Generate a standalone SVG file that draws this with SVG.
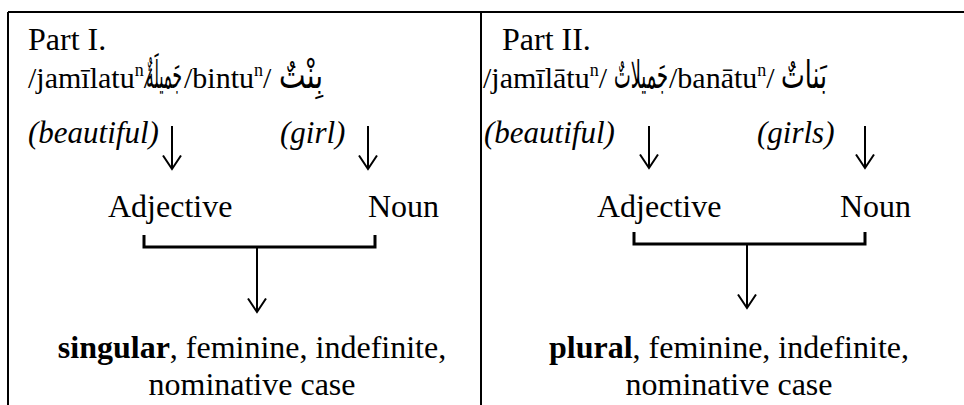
<svg xmlns="http://www.w3.org/2000/svg" width="964" height="405" viewBox="0 0 964 405" font-family="'Liberation Serif', 'Times New Roman', serif">
<style>
text{font-family:"Liberation Serif","Times New Roman",serif;fill:#000}
.t{font-size:32px}
.l2{font-size:30px}
.ar{font-family:"DejaVu Sans",sans-serif;font-size:38px}
.it{font-size:31px;font-style:italic}
.b{font-weight:bold}
.ln{stroke:#000;stroke-width:2;fill:none}
.br{stroke:#000;stroke-width:3;fill:none}
</style>
<defs>
<marker id="ah" viewBox="0 0 16 20" refX="14.5" refY="10" markerWidth="16" markerHeight="20" markerUnits="userSpaceOnUse" orient="auto">
<path d="M1,1 L14.5,10 L1,19" stroke="#000" stroke-width="2" fill="none"/>
</marker>
</defs>
<g id="frame">
<line class="ln" x1="8" y1="12" x2="964" y2="12"/>
<line class="ln" x1="8" y1="12" x2="8" y2="405"/>
<line class="ln" x1="481" y1="12" x2="481" y2="405"/>
</g>
<g id="part1">
<text class="t" x="28" y="50">Part I.</text>
<text class="l2" x="28" y="88">/jamīlatu<tspan font-size="18" dy="-12">n</tspan><tspan dy="12">/</tspan></text>
<text class="ar" x="164" y="88" text-anchor="middle" textLength="36" lengthAdjust="spacingAndGlyphs">جَميلَةٌ</text>
<text class="l2" x="184" y="88">/bintu<tspan font-size="18" dy="-12">n</tspan><tspan dy="12">/</tspan></text>
<text class="ar" x="301" y="88" text-anchor="middle" textLength="44" lengthAdjust="spacingAndGlyphs">بِنْتٌ</text>
<text class="it" x="28" y="143">(beautiful)</text>
<text class="it" x="280" y="143">(girl)</text>
</g>
<g id="adj1"><text class="t" x="108" y="217">Adjective</text></g>
<g id="noun1"><text class="t" x="368" y="217">Noun</text></g>
<g id="res1">
<text class="t" x="252" y="358" text-anchor="middle"><tspan class="b">singular</tspan>, feminine, indefinite,</text>
<text class="t" x="252" y="395" text-anchor="middle">nominative case</text>
</g>
<g id="part2">
<text class="t" x="502" y="50">Part II.</text>
<text class="l2" x="483" y="88">/jamīlātu<tspan font-size="18" dy="-12">n</tspan><tspan dy="12">/</tspan></text>
<text class="ar" x="641" y="88" text-anchor="middle" textLength="54" lengthAdjust="spacingAndGlyphs">جَميلاتٌ</text>
<text class="l2" x="669" y="88">/banātu<tspan font-size="18" dy="-12">n</tspan><tspan dy="12">/</tspan></text>
<text class="ar" x="804" y="88" text-anchor="middle" textLength="46" lengthAdjust="spacingAndGlyphs">بَناتٌ</text>
<text class="it" x="484" y="143">(beautiful)</text>
<text class="it" x="757" y="143">(girls)</text>
</g>
<g id="adj2"><text class="t" x="597" y="217">Adjective</text></g>
<g id="noun2"><text class="t" x="840" y="217">Noun</text></g>
<g id="res2">
<text class="t" x="729" y="358" text-anchor="middle"><tspan class="b">plural</tspan>, feminine, indefinite,</text>
<text class="t" x="729" y="395" text-anchor="middle">nominative case</text>
</g>
<g id="connectors">
<line class="ln" x1="172" y1="126" x2="172" y2="169" marker-end="url(#ah)"/>
<line class="ln" x1="368" y1="126" x2="368" y2="169" marker-end="url(#ah)"/>
<path class="br" d="M144,235 V247 H375 V235"/>
<line class="ln" x1="257" y1="247" x2="257" y2="312" marker-end="url(#ah)"/>
<line class="ln" x1="649" y1="126" x2="649" y2="168" marker-end="url(#ah)"/>
<line class="ln" x1="865" y1="126" x2="865" y2="168" marker-end="url(#ah)"/>
<path class="br" d="M634,232 V244 H865 V232"/>
<line class="ln" x1="747" y1="244" x2="747" y2="308" marker-end="url(#ah)"/>
</g>
</svg>
